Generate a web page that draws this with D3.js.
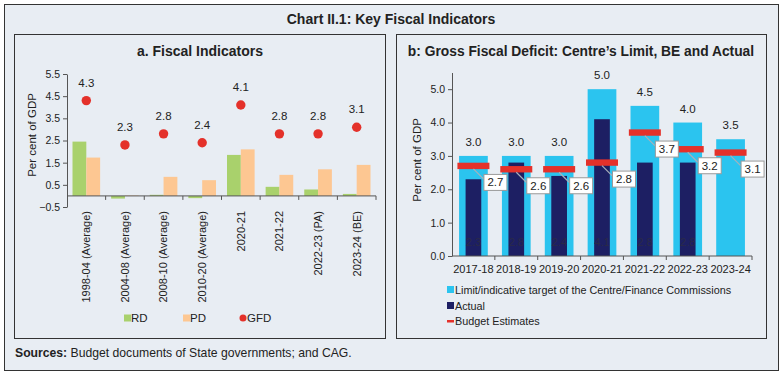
<!DOCTYPE html>
<html>
<head>
<meta charset="utf-8">
<script src="https://cdn.jsdelivr.net/npm/d3@7"></script>
<style>
  body { margin: 0; background: #fff; }
  svg { font-family: "Liberation Sans", Arial, sans-serif; display: block; }
  .tick text { font-size: 10.5px; fill: #222; }
</style>
</head>
<body>
<svg id="chart" width="783" height="377"></svg>
<script>
// Panel a: fiscal indicators (per cent of GDP)
const catA = ['1998-04 (Average)', '2004-08 (Average)', '2008-10 (Average)', '2010-20 (Average)',
              '2020-21', '2021-22', '2022-23 (PA)', '2023-24 (BE)'];
const rdVals = [2.45, -0.12, 0.05, -0.1, 1.85, 0.41, 0.29, 0.09];
const pdVals = [1.73, 0.02, 0.86, 0.71, 2.1, 0.95, 1.2, 1.4];
const gfdVals = [4.3, 2.3, 2.8, 2.4, 4.1, 2.8, 2.8, 3.1];
const ticksA = [-0.5, 0.5, 1.5, 2.5, 3.5, 4.5, 5.5];

// Panel b: GFD - centre's limit, BE and actual
const catB = ['2017-18', '2018-19', '2019-20', '2020-21', '2021-22', '2022-23', '2023-24'];
const limitVals = [3.0, 3.0, 3.0, 5.0, 4.5, 4.0, 3.5];
const actualVals = [2.3, 2.8, 2.4, 4.1, 2.8, 2.8, null];
const beVals = [2.7, 2.6, 2.6, 2.8, 3.7, 3.2, 3.1];
const ticksB = [0, 1, 2, 3, 4, 5];

const bg = '#e8edf3', ink = '#222', axisCol = '#555';
const cRD = '#a9d16c', cPD = '#fdc792', cGFD = '#e4312a';
const cLimit = '#2bc4ef', cActual = '#1d1f63', cBE = '#e4312a';

const svg = d3.select('#chart');

// frames
svg.append('rect').attr('x', 4.5).attr('y', 4.5).attr('width', 774).attr('height', 366)
  .attr('fill', bg).attr('stroke', '#333');
svg.append('rect').attr('x', 14.5).attr('y', 34.5).attr('width', 371).attr('height', 304)
  .attr('fill', bg).attr('stroke', '#333');
svg.append('rect').attr('x', 396.5).attr('y', 34.5).attr('width', 370).attr('height', 304)
  .attr('fill', bg).attr('stroke', '#333');

svg.append('text').attr('x', 391).attr('y', 24).attr('text-anchor', 'middle')
  .style('font-size', '14px').style('font-weight', 'bold').attr('fill', ink)
  .text('Chart II.1: Key Fiscal Indicators');

let src = svg.append('text').attr('x', 15).attr('y', 357).style('font-size', '12.2px').attr('fill', ink);
src.append('tspan').style('font-weight', 'bold').text('Sources:');
src.append('tspan').text(' Budget documents of State governments; and CAG.');

// ---------- panel a ----------
const gA = svg.append('g');
gA.append('text').attr('x', 200).attr('y', 55.5).attr('text-anchor', 'middle')
  .style('font-size', '14px').style('font-weight', 'bold').attr('fill', ink)
  .text('a. Fiscal Indicators');

const xA = d3.scaleBand().domain(catA).range([67, 376]);
const xA1 = d3.scaleBand().domain(['RD', 'PD']).range([5.5, xA.bandwidth() - 5.5]);
const yA = d3.scaleLinear().domain([-0.5, 5.5]).range([207, 74]);

gA.append('g').attr('transform', 'translate(67,0)')
  .call(d3.axisLeft(yA).tickValues(ticksA).tickSize(4).tickSizeOuter(0).tickFormat(d3.format('.1f')))
  .call(g => g.selectAll('path, line').attr('stroke', axisCol));

gA.append('text').attr('transform', 'translate(36,' + 135 + ') rotate(-90)')
  .attr('text-anchor', 'middle').style('font-size', '11.5px').attr('fill', ink).text('Per cent of GDP');

const grp = gA.selectAll('g.cat').data(catA).enter().append('g')
  .attr('transform', d => 'translate(' + xA(d) + ',0)');

grp.append('rect')
  .attr('x', xA1('RD')).attr('width', xA1.bandwidth())
  .attr('y', (d, i) => yA(Math.max(0, rdVals[i])))
  .attr('height', (d, i) => Math.abs(yA(rdVals[i]) - yA(0)))
  .attr('fill', cRD);
grp.append('rect')
  .attr('x', xA1('PD')).attr('width', xA1.bandwidth())
  .attr('y', (d, i) => yA(Math.max(0, pdVals[i])))
  .attr('height', (d, i) => Math.abs(yA(pdVals[i]) - yA(0)))
  .attr('fill', cPD);

// zero axis with ticks between categories
const y0 = yA(0);
gA.append('line').attr('x1', 67).attr('x2', 376).attr('y1', y0).attr('y2', y0).attr('stroke', axisCol);
gA.selectAll('line.sep').data(catA).enter().append('line')
  .attr('x1', d => xA(d) + xA.bandwidth()).attr('x2', d => xA(d) + xA.bandwidth())
  .attr('y1', y0).attr('y2', y0 + 4).attr('stroke', axisCol);

gA.selectAll('text.xlab').data(catA).enter().append('text')
  .attr('transform', d => 'translate(' + (xA(d) + xA.bandwidth() / 2) + ',211) rotate(-90)')
  .attr('text-anchor', 'end').attr('dy', '0.35em')
  .style('font-size', '11px').attr('fill', ink).text(d => d);

gA.selectAll('circle.gfd').data(gfdVals).enter().append('circle')
  .attr('cx', (d, i) => xA(catA[i]) + xA.bandwidth() / 2)
  .attr('cy', d => yA(d)).attr('r', 4.7).attr('fill', cGFD);
gA.selectAll('text.gfd').data(gfdVals).enter().append('text')
  .attr('x', (d, i) => xA(catA[i]) + xA.bandwidth() / 2)
  .attr('y', d => yA(d) - 14).attr('text-anchor', 'middle')
  .style('font-size', '11.5px').attr('fill', ink).text(d => d3.format('.1f')(d));

// legend a
const legA = gA.append('g').attr('transform', 'translate(0,318)');
legA.append('rect').attr('x', 124).attr('y', -3.5).attr('width', 7).attr('height', 7).attr('fill', cRD);
legA.append('text').attr('x', 131).attr('y', 4).style('font-size', '11.5px').attr('fill', ink).text('RD');
legA.append('rect').attr('x', 183).attr('y', -3.5).attr('width', 7).attr('height', 7).attr('fill', cPD);
legA.append('text').attr('x', 190).attr('y', 4).style('font-size', '11.5px').attr('fill', ink).text('PD');
legA.append('circle').attr('cx', 243).attr('cy', 0).attr('r', 3.5).attr('fill', cGFD);
legA.append('text').attr('x', 247).attr('y', 4).style('font-size', '11.5px').attr('fill', ink).text('GFD');

// ---------- panel b ----------
const gB = svg.append('g');
gB.append('text').attr('x', 581).attr('y', 55.5).attr('text-anchor', 'middle')
  .style('font-size', '13.8px').style('font-weight', 'bold').attr('fill', ink)
  .text('b: Gross Fiscal Deficit: Centre\u2019s Limit, BE and Actual');

const xB = d3.scaleBand().domain(catB).range([452, 752]);
const yB = d3.scaleLinear().domain([0, 5.5]).range([256, 72.5]);
const bw = xB.bandwidth();
const cx = d => xB(d) + bw / 2;

gB.append('g').attr('transform', 'translate(452,0)')
  .call(d3.axisLeft(yB).tickValues(ticksB).tickSize(4).tickSizeOuter(0).tickFormat(d3.format('.1f')))
  .call(g => g.selectAll('path, line').attr('stroke', axisCol));

gB.append('text').attr('transform', 'translate(421,160) rotate(-90)')
  .attr('text-anchor', 'middle').style('font-size', '11.5px').attr('fill', ink).text('Per cent of GDP');

gB.selectAll('rect.limit').data(catB).enter().append('rect')
  .attr('x', d => cx(d) - bw * 0.335).attr('width', bw * 0.67)
  .attr('y', (d, i) => yB(limitVals[i])).attr('height', (d, i) => yB(0) - yB(limitVals[i]))
  .attr('fill', cLimit);
gB.selectAll('text.limit').data(catB).enter().append('text')
  .attr('x', d => cx(d)).attr('y', (d, i) => yB(limitVals[i]) - 10)
  .attr('text-anchor', 'middle').style('font-size', '11.5px').attr('fill', ink)
  .text((d, i) => d3.format('.1f')(limitVals[i]));

const actualCats = catB.filter((d, i) => actualVals[i] != null);
gB.selectAll('rect.actual').data(actualCats).enter().append('rect')
  .attr('x', d => cx(d) - bw * 0.183).attr('width', bw * 0.366)
  .attr('y', d => yB(actualVals[catB.indexOf(d)]))
  .attr('height', d => yB(0) - yB(actualVals[catB.indexOf(d)]))
  .attr('fill', cActual);
gB.selectAll('text.actual').data(actualCats).enter().append('text')
  .attr('x', d => cx(d)).attr('y', yB(0) - 10)
  .attr('text-anchor', 'middle').style('font-size', '11px').attr('fill', '#2a2a48')
  .text(d => d3.format('.1f')(actualVals[catB.indexOf(d)]));

// x axis b
gB.append('line').attr('x1', 452).attr('x2', 752).attr('y1', yB(0)).attr('y2', yB(0)).attr('stroke', axisCol);
gB.selectAll('line.sep').data(catB).enter().append('line')
  .attr('x1', d => xB(d) + bw).attr('x2', d => xB(d) + bw)
  .attr('y1', yB(0)).attr('y2', yB(0) + 4).attr('stroke', axisCol);
gB.selectAll('text.xlab').data(catB).enter().append('text')
  .attr('x', d => cx(d)).attr('y', 273).attr('text-anchor', 'middle')
  .style('font-size', '11px').attr('fill', ink).text(d => d);

// budget estimates with callouts
gB.selectAll('rect.be').data(catB).enter().append('rect')
  .attr('x', d => cx(d) - 16).attr('width', 32)
  .attr('y', (d, i) => yB(beVals[i]) - 3.2).attr('height', 6.4)
  .attr('fill', cBE);
const call = gB.selectAll('g.call').data(catB).enter().append('g')
  .attr('transform', (d, i) => 'translate(' + cx(d) + ',' + yB(beVals[i]) + ')');
call.append('line').attr('x1', 0).attr('y1', 3).attr('x2', 10).attr('y2', 13)
  .attr('stroke', '#a8b0ba').attr('stroke-width', 1.2);
call.append('rect').attr('x', 10.5).attr('y', 8.5).attr('width', 23).attr('height', 16)
  .attr('fill', '#fff').attr('stroke', '#9a9a9a');
call.append('text').attr('x', 22).attr('y', 20.5).attr('text-anchor', 'middle')
  .style('font-size', '11.5px').attr('fill', ink).text((d, i) => d3.format('.1f')(beVals[i]));

// legend b
const legB = gB.append('g');
legB.append('rect').attr('x', 447).attr('y', 286).attr('width', 7).attr('height', 7).attr('fill', cLimit);
legB.append('text').attr('x', 455).attr('y', 293.5).style('font-size', '10.8px').attr('fill', ink)
  .text('Limit/indicative target of the Centre/Finance Commissions');
legB.append('rect').attr('x', 447).attr('y', 302).attr('width', 7).attr('height', 7).attr('fill', cActual);
legB.append('text').attr('x', 455).attr('y', 309.5).style('font-size', '10.8px').attr('fill', ink).text('Actual');
legB.append('rect').attr('x', 447).attr('y', 320).attr('width', 7).attr('height', 2.5).attr('fill', cBE);
legB.append('text').attr('x', 455).attr('y', 325).style('font-size', '10.8px').attr('fill', ink).text('Budget Estimates');
</script>
</body>
</html>
